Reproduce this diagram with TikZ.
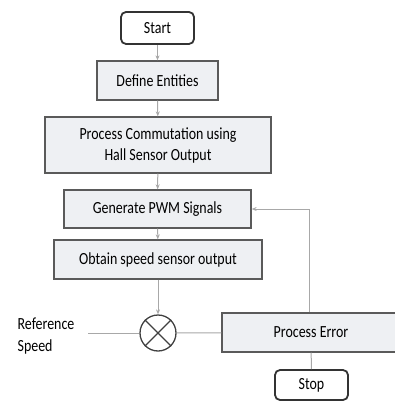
\documentclass[tikz,border=0pt]{standalone}
\usepackage{fontspec}
\setmainfont[FakeStretch=0.82]{Carlito}
\usetikzlibrary{arrows.meta}
\definecolor{boxfill}{HTML}{EEF0F3}
\definecolor{boxline}{HTML}{5A5A5A}
\definecolor{conn}{HTML}{A8A8A8}
\tikzset{
  procbox/.style={draw=boxline, line width=1.3pt, fill=boxfill, align=center, inner sep=0pt,
    font=\fontsize{17}{21}\selectfont},
  termbox/.style={draw=black!80, line width=1.8pt, fill=white, rounded corners=5pt, inner sep=0pt,
    font=\fontsize{17}{21}\selectfont},
  conline/.style={draw=conn, line width=1pt},
  conarrow/.style={conline, -{Stealth[length=5pt,width=4pt]}},
  mixer/.style={circle, draw=black!75, line width=1.3pt, minimum size=36pt, inner sep=0pt},
  plain/.style={align=left, font=\fontsize{17}{22}\selectfont, inner sep=0pt}
}
\begin{document}
\begin{tikzpicture}[x=1pt,y=-1pt]
\useasboundingbox (0,0) rectangle (395,401);
\node[termbox, minimum width=73pt, minimum height=32pt] (start) at (157.5,28) {Start};
\node[procbox, minimum width=121pt, minimum height=39pt] (define) at (157.5,80.5) {Define Entities};
\node[procbox, minimum width=226pt, minimum height=56pt] (comm) at (158,145) {Process Commutation using\\Hall Sensor Output};
\node[procbox, minimum width=187pt, minimum height=38pt] (pwm) at (157.5,209) {Generate PWM Signals};
\node[procbox, minimum width=208pt, minimum height=39pt] (obtain) at (158,259.5) {Obtain speed sensor output};
\node[mixer] (mix) at (158,333) {};
\draw[black!75, line width=1.3pt] (mix.45) -- (mix.225) (mix.135) -- (mix.315);
\node[procbox, minimum width=178pt, minimum height=39pt] (err) at (311,332.5) {Process Error};
\node[termbox, minimum width=73pt, minimum height=30pt] (stop) at (311.5,385) {Stop};
\node[plain] (ref) at (46,336) {Reference\\Speed};
\coordinate (refend) at (88,333);
\coordinate (fbtop) at (309,209);

\draw[conarrow] (start) -- (define);
\draw[conarrow] (define) -- (comm);
\draw[conarrow] (comm) -- (pwm);
\draw[conarrow] (pwm) -- (obtain);
\draw[conarrow] (obtain) -- (mix);
\draw[conline] (refend) -- (mix);
\draw[conline] (mix) -- (err);
\draw[conline] (err) -- (stop);
\draw[conarrow] (err.north -| fbtop) -- (fbtop) -- (pwm.east);
\end{tikzpicture}
\end{document}
